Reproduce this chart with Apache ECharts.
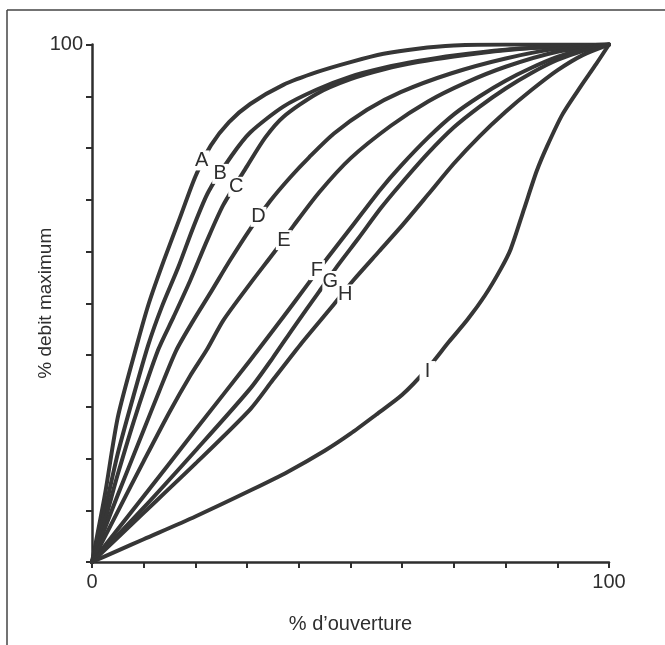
<!DOCTYPE html>
<html>
<head>
<meta charset="utf-8">
<script src="https://cdn.jsdelivr.net/npm/echarts@6/dist/echarts.min.js"></script>
<style>
  html, body { margin: 0; padding: 0; background: #fff; }
  #chart { width: 665px; height: 645px; }
</style>
</head>
<body>
<div id="chart"></div>
<script>
// valve curves: [% opening, % max flow]
const curveA = [[0,0],[2.5,13],[5,28],[8.7,42],[11,50],[13.8,58],[17,66.5],[20,74.5],[23,80.5],[26.5,85],[30.6,88.5],[37,92.2],[43.6,94.7],[50,96.6],[56.4,98.2],[63,99.2],[70,99.8],[80,100],[100,100]]
const curveB = [[0,0],[2.5,10],[5,21],[8,32],[10.9,42],[13.5,49.3],[16.7,57],[19.6,64.7],[22.5,71.5],[27,78.5],[30.6,83],[37,88],[43.5,91.3],[50,93.8],[56.5,95.5],[63,96.8],[70,97.9],[80,99],[90,99.6],[100,100]]
const curveC = [[0,0],[2.5,8],[5,17],[8.5,28.5],[12.8,41],[15.8,47.4],[19,54.4],[22.2,62],[25.4,69],[30,76.5],[33.5,82],[37,86],[43.5,90.5],[50,93.3],[56.5,95.2],[63,96.6],[70,97.7],[80,98.9],[90,99.6],[100,100]]
const curveD = [[0,0],[2.5,6.5],[5,13],[10,25.5],[13,33],[16.3,40.9],[19.5,46.5],[22.9,52],[26.7,58.3],[30.5,64.2],[34.5,69.8],[38.4,74.4],[42,78.2],[46.8,82.8],[53.2,87.4],[59.7,90.8],[69.4,94.4],[80,97.3],[90,99.2],[100,100]]
const curveE = [[0,0],[5,9.8],[10,19.5],[15,29],[19,36],[22.2,41],[25.4,46.7],[30.6,53.8],[35.5,60.2],[39,65],[44,71.5],[50,78],[57.8,84.3],[65,89],[72,92.5],[80,95.7],[90,98.6],[100,100]]
const curveF = [[0,0],[10,12.7],[20,25.5],[30.6,39],[37.1,47.5],[41.6,53.5],[45.5,58.7],[50,64.5],[55.8,72],[59.7,76.5],[65,82],[70,86.5],[75,90],[80,93],[85,95.5],[90,97.6],[95,99.1],[100,100]]
const curveG = [[0,0],[10,10.5],[20,21.5],[30.6,33.5],[35,39.5],[39,45.3],[43.9,52.2],[47.7,57.5],[51.5,62.5],[55.8,68.3],[59.7,73],[65,79],[70,84],[75,88],[80,91.5],[85,94.5],[90,97],[95,98.8],[100,100]]
const curveH = [[0,0],[10,9.5],[20,19],[30.6,29.5],[35,35.2],[40.3,42],[46.8,49.8],[50.6,54.5],[55.5,60],[59.7,64.7],[65,71],[70,77],[75,82.3],[80,87],[85,91.2],[90,95],[95,98],[100,100]]
const curveI = [[0,0],[5,2.2],[10,4.4],[20,8.8],[31,14],[38,17.5],[45,21.5],[50,24.8],[55,28.5],[60,32.3],[65,37.5],[69,42.5],[72.6,46.8],[76,51.5],[79,56.5],[81,60.5],[83.6,68.3],[86,75.5],[88.1,80.5],[91,86.5],[94.6,92],[97.5,96.2],[100,100]]

const curveNames = ['A', 'B', 'C', 'D', 'E', 'F', 'G', 'H', 'I']
const curves = [curveA, curveB, curveC, curveD, curveE, curveF, curveG, curveH, curveI]

// where each letter sits on its curve
const labelX = [21.2, 24.8, 27.9, 32.2, 37.1, 43.5, 46.1, 49.0, 64.9]
const labelY = [77.6, 75.0, 72.5, 66.7, 62.2, 56.4, 54.3, 51.7, 36.9]

const xTickLabels = [0, 100]
const yTickLabels = [100]

const INK = '#2e2e2e'
const FONT = '"Liberation Sans", Arial, Helvetica, sans-serif'

const chart = echarts.init(document.getElementById('chart'))

const lineSeries = curves.map((pts, i) => ({
  name: curveNames[i],
  type: 'line',
  data: pts,
  smooth: 0.25,
  showSymbol: false,
  lineStyle: { color: '#363636', width: 4, cap: 'round', join: 'round' },
  z: 2,
  animation: false
}))

chart.setOption({
  backgroundColor: '#fff',
  animation: false,
  grid: { left: 92, top: 44.5, width: 517, height: 517.5, containLabel: false },
  xAxis: {
    type: 'value',
    min: 0,
    max: 100,
    interval: 10,
    name: '% d\u2019ouverture',
    nameLocation: 'middle',
    nameGap: 52,
    nameMoveOverlap: false,
    nameTextStyle: { color: INK, fontSize: 20, fontFamily: FONT },
    axisLine: { show: true, onZero: false, lineStyle: { color: INK, width: 2.5 } },
    axisTick: { show: true, length: 6, lineStyle: { color: INK, width: 2 } },
    splitLine: { show: false },
    axisLabel: {
      color: INK,
      fontSize: 20,
      fontFamily: FONT,
      margin: 10,
      showMinLabel: true,
      showMaxLabel: true,
      formatter: v => xTickLabels.includes(v) ? String(v) : ''
    }
  },
  yAxis: {
    type: 'value',
    min: 0,
    max: 100,
    interval: 10,
    name: '% debit maximum',
    nameLocation: 'middle',
    nameGap: 37,
    nameMoveOverlap: false,
    nameTextStyle: { color: INK, fontSize: 19, fontFamily: FONT },
    axisLine: { show: true, onZero: false, lineStyle: { color: INK, width: 2.5 } },
    axisTick: { show: true, length: 6, lineStyle: { color: INK, width: 2 } },
    splitLine: { show: false },
    axisLabel: {
      color: INK,
      fontSize: 20,
      fontFamily: FONT,
      margin: 9,
      showMaxLabel: true,
      formatter: v => yTickLabels.includes(v) ? String(v) : ''
    }
  },
  graphic: [
    { type: 'line', shape: { x1: 7, y1: 10, x2: 665, y2: 10 }, style: { stroke: '#444', lineWidth: 1.5 }, silent: true },
    { type: 'line', shape: { x1: 7, y1: 10, x2: 7, y2: 645 }, style: { stroke: '#444', lineWidth: 1.5 }, silent: true }
  ],
  series: [
    ...lineSeries,
    {
      // white box under each letter cuts the curve, like the original
      name: 'labels',
      type: 'scatter',
      data: curveNames.map((n, i) => ({ name: n, value: [labelX[i], labelY[i]] })),
      symbol: 'rect',
      symbolSize: [16, 20],
      itemStyle: { color: '#fff', opacity: 1 },
      z: 10,
      emphasis: { disabled: true },
      label: {
        show: true,
        position: 'inside',
        formatter: '{b}',
        color: INK,
        fontSize: 20,
        fontFamily: FONT,
        textBorderWidth: 0,
        opacity: 1
      },
      animation: false
    }
  ]
})
</script>
</body>
</html>
